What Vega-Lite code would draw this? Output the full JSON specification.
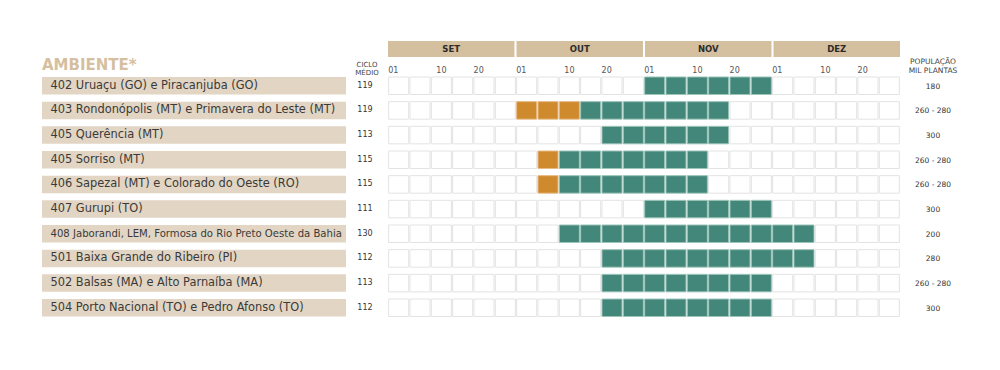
{
  "$schema": "https://vega.github.io/schema/vega-lite/v6.json",
  "padding": {"left": 42, "top": 41, "right": 10, "bottom": 10},
  "background": "white",
  "config": {
    "view": {"stroke": null},
    "font": "DejaVu Sans",
    "title": {"frame": "group", "anchor": "middle", "fontWeight": "normal", "color": "#444444"}
  },
  "datasets": {
    "amb": [
      {"k": 1, "amb": "402 Uruaçu (GO) e Piracanjuba (GO)", "ciclo": 119, "pop": "180"},
      {"k": 2, "amb": "403 Rondonópolis (MT) e Primavera do Leste (MT)", "ciclo": 119, "pop": "260 - 280"},
      {"k": 3, "amb": "405 Querência (MT)", "ciclo": 113, "pop": "300"},
      {"k": 4, "amb": "405 Sorriso (MT)", "ciclo": 115, "pop": "260 - 280"},
      {"k": 5, "amb": "406 Sapezal (MT) e Colorado do Oeste (RO)", "ciclo": 115, "pop": "260 - 280"},
      {"k": 6, "amb": "407 Gurupi (TO)", "ciclo": 111, "pop": "300"},
      {"k": 7, "amb": "408 Jaborandi, LEM, Formosa do Rio Preto Oeste da Bahia", "ciclo": 130, "pop": "200"},
      {"k": 8, "amb": "501 Baixa Grande do Ribeiro (PI)", "ciclo": 112, "pop": "280"},
      {"k": 9, "amb": "502 Balsas (MA) e Alto Parnaíba (MA)", "ciclo": 113, "pop": "260 - 280"},
      {"k": 10, "amb": "504 Porto Nacional (TO) e Pedro Afonso (TO)", "ciclo": 112, "pop": "300"}
    ],
    "meses": [{"mes": "SET"}, {"mes": "OUT"}, {"mes": "NOV"}, {"mes": "DEZ"}],
    "cells": [
      {"k":1,"c":0,"s":"n"},{"k":1,"c":1,"s":"n"},{"k":1,"c":2,"s":"n"},{"k":1,"c":3,"s":"n"},{"k":1,"c":4,"s":"n"},{"k":1,"c":5,"s":"n"},{"k":1,"c":6,"s":"n"},{"k":1,"c":7,"s":"n"},{"k":1,"c":8,"s":"n"},{"k":1,"c":9,"s":"n"},{"k":1,"c":10,"s":"n"},{"k":1,"c":11,"s":"n"},{"k":1,"c":12,"s":"g"},{"k":1,"c":13,"s":"g"},{"k":1,"c":14,"s":"g"},{"k":1,"c":15,"s":"g"},{"k":1,"c":16,"s":"g"},{"k":1,"c":17,"s":"g"},{"k":1,"c":18,"s":"n"},{"k":1,"c":19,"s":"n"},{"k":1,"c":20,"s":"n"},{"k":1,"c":21,"s":"n"},{"k":1,"c":22,"s":"n"},{"k":1,"c":23,"s":"n"},
      {"k":2,"c":0,"s":"n"},{"k":2,"c":1,"s":"n"},{"k":2,"c":2,"s":"n"},{"k":2,"c":3,"s":"n"},{"k":2,"c":4,"s":"n"},{"k":2,"c":5,"s":"n"},{"k":2,"c":6,"s":"o"},{"k":2,"c":7,"s":"o"},{"k":2,"c":8,"s":"o"},{"k":2,"c":9,"s":"g"},{"k":2,"c":10,"s":"g"},{"k":2,"c":11,"s":"g"},{"k":2,"c":12,"s":"g"},{"k":2,"c":13,"s":"g"},{"k":2,"c":14,"s":"g"},{"k":2,"c":15,"s":"g"},{"k":2,"c":16,"s":"n"},{"k":2,"c":17,"s":"n"},{"k":2,"c":18,"s":"n"},{"k":2,"c":19,"s":"n"},{"k":2,"c":20,"s":"n"},{"k":2,"c":21,"s":"n"},{"k":2,"c":22,"s":"n"},{"k":2,"c":23,"s":"n"},
      {"k":3,"c":0,"s":"n"},{"k":3,"c":1,"s":"n"},{"k":3,"c":2,"s":"n"},{"k":3,"c":3,"s":"n"},{"k":3,"c":4,"s":"n"},{"k":3,"c":5,"s":"n"},{"k":3,"c":6,"s":"n"},{"k":3,"c":7,"s":"n"},{"k":3,"c":8,"s":"n"},{"k":3,"c":9,"s":"n"},{"k":3,"c":10,"s":"g"},{"k":3,"c":11,"s":"g"},{"k":3,"c":12,"s":"g"},{"k":3,"c":13,"s":"g"},{"k":3,"c":14,"s":"g"},{"k":3,"c":15,"s":"g"},{"k":3,"c":16,"s":"n"},{"k":3,"c":17,"s":"n"},{"k":3,"c":18,"s":"n"},{"k":3,"c":19,"s":"n"},{"k":3,"c":20,"s":"n"},{"k":3,"c":21,"s":"n"},{"k":3,"c":22,"s":"n"},{"k":3,"c":23,"s":"n"},
      {"k":4,"c":0,"s":"n"},{"k":4,"c":1,"s":"n"},{"k":4,"c":2,"s":"n"},{"k":4,"c":3,"s":"n"},{"k":4,"c":4,"s":"n"},{"k":4,"c":5,"s":"n"},{"k":4,"c":6,"s":"n"},{"k":4,"c":7,"s":"o"},{"k":4,"c":8,"s":"g"},{"k":4,"c":9,"s":"g"},{"k":4,"c":10,"s":"g"},{"k":4,"c":11,"s":"g"},{"k":4,"c":12,"s":"g"},{"k":4,"c":13,"s":"g"},{"k":4,"c":14,"s":"g"},{"k":4,"c":15,"s":"n"},{"k":4,"c":16,"s":"n"},{"k":4,"c":17,"s":"n"},{"k":4,"c":18,"s":"n"},{"k":4,"c":19,"s":"n"},{"k":4,"c":20,"s":"n"},{"k":4,"c":21,"s":"n"},{"k":4,"c":22,"s":"n"},{"k":4,"c":23,"s":"n"},
      {"k":5,"c":0,"s":"n"},{"k":5,"c":1,"s":"n"},{"k":5,"c":2,"s":"n"},{"k":5,"c":3,"s":"n"},{"k":5,"c":4,"s":"n"},{"k":5,"c":5,"s":"n"},{"k":5,"c":6,"s":"n"},{"k":5,"c":7,"s":"o"},{"k":5,"c":8,"s":"g"},{"k":5,"c":9,"s":"g"},{"k":5,"c":10,"s":"g"},{"k":5,"c":11,"s":"g"},{"k":5,"c":12,"s":"g"},{"k":5,"c":13,"s":"g"},{"k":5,"c":14,"s":"g"},{"k":5,"c":15,"s":"n"},{"k":5,"c":16,"s":"n"},{"k":5,"c":17,"s":"n"},{"k":5,"c":18,"s":"n"},{"k":5,"c":19,"s":"n"},{"k":5,"c":20,"s":"n"},{"k":5,"c":21,"s":"n"},{"k":5,"c":22,"s":"n"},{"k":5,"c":23,"s":"n"},
      {"k":6,"c":0,"s":"n"},{"k":6,"c":1,"s":"n"},{"k":6,"c":2,"s":"n"},{"k":6,"c":3,"s":"n"},{"k":6,"c":4,"s":"n"},{"k":6,"c":5,"s":"n"},{"k":6,"c":6,"s":"n"},{"k":6,"c":7,"s":"n"},{"k":6,"c":8,"s":"n"},{"k":6,"c":9,"s":"n"},{"k":6,"c":10,"s":"n"},{"k":6,"c":11,"s":"n"},{"k":6,"c":12,"s":"g"},{"k":6,"c":13,"s":"g"},{"k":6,"c":14,"s":"g"},{"k":6,"c":15,"s":"g"},{"k":6,"c":16,"s":"g"},{"k":6,"c":17,"s":"g"},{"k":6,"c":18,"s":"n"},{"k":6,"c":19,"s":"n"},{"k":6,"c":20,"s":"n"},{"k":6,"c":21,"s":"n"},{"k":6,"c":22,"s":"n"},{"k":6,"c":23,"s":"n"},
      {"k":7,"c":0,"s":"n"},{"k":7,"c":1,"s":"n"},{"k":7,"c":2,"s":"n"},{"k":7,"c":3,"s":"n"},{"k":7,"c":4,"s":"n"},{"k":7,"c":5,"s":"n"},{"k":7,"c":6,"s":"n"},{"k":7,"c":7,"s":"n"},{"k":7,"c":8,"s":"g"},{"k":7,"c":9,"s":"g"},{"k":7,"c":10,"s":"g"},{"k":7,"c":11,"s":"g"},{"k":7,"c":12,"s":"g"},{"k":7,"c":13,"s":"g"},{"k":7,"c":14,"s":"g"},{"k":7,"c":15,"s":"g"},{"k":7,"c":16,"s":"g"},{"k":7,"c":17,"s":"g"},{"k":7,"c":18,"s":"g"},{"k":7,"c":19,"s":"g"},{"k":7,"c":20,"s":"n"},{"k":7,"c":21,"s":"n"},{"k":7,"c":22,"s":"n"},{"k":7,"c":23,"s":"n"},
      {"k":8,"c":0,"s":"n"},{"k":8,"c":1,"s":"n"},{"k":8,"c":2,"s":"n"},{"k":8,"c":3,"s":"n"},{"k":8,"c":4,"s":"n"},{"k":8,"c":5,"s":"n"},{"k":8,"c":6,"s":"n"},{"k":8,"c":7,"s":"n"},{"k":8,"c":8,"s":"n"},{"k":8,"c":9,"s":"n"},{"k":8,"c":10,"s":"g"},{"k":8,"c":11,"s":"g"},{"k":8,"c":12,"s":"g"},{"k":8,"c":13,"s":"g"},{"k":8,"c":14,"s":"g"},{"k":8,"c":15,"s":"g"},{"k":8,"c":16,"s":"g"},{"k":8,"c":17,"s":"g"},{"k":8,"c":18,"s":"g"},{"k":8,"c":19,"s":"g"},{"k":8,"c":20,"s":"n"},{"k":8,"c":21,"s":"n"},{"k":8,"c":22,"s":"n"},{"k":8,"c":23,"s":"n"},
      {"k":9,"c":0,"s":"n"},{"k":9,"c":1,"s":"n"},{"k":9,"c":2,"s":"n"},{"k":9,"c":3,"s":"n"},{"k":9,"c":4,"s":"n"},{"k":9,"c":5,"s":"n"},{"k":9,"c":6,"s":"n"},{"k":9,"c":7,"s":"n"},{"k":9,"c":8,"s":"n"},{"k":9,"c":9,"s":"n"},{"k":9,"c":10,"s":"g"},{"k":9,"c":11,"s":"g"},{"k":9,"c":12,"s":"g"},{"k":9,"c":13,"s":"g"},{"k":9,"c":14,"s":"g"},{"k":9,"c":15,"s":"g"},{"k":9,"c":16,"s":"g"},{"k":9,"c":17,"s":"g"},{"k":9,"c":18,"s":"n"},{"k":9,"c":19,"s":"n"},{"k":9,"c":20,"s":"n"},{"k":9,"c":21,"s":"n"},{"k":9,"c":22,"s":"n"},{"k":9,"c":23,"s":"n"},
      {"k":10,"c":0,"s":"n"},{"k":10,"c":1,"s":"n"},{"k":10,"c":2,"s":"n"},{"k":10,"c":3,"s":"n"},{"k":10,"c":4,"s":"n"},{"k":10,"c":5,"s":"n"},{"k":10,"c":6,"s":"n"},{"k":10,"c":7,"s":"n"},{"k":10,"c":8,"s":"n"},{"k":10,"c":9,"s":"n"},{"k":10,"c":10,"s":"g"},{"k":10,"c":11,"s":"g"},{"k":10,"c":12,"s":"g"},{"k":10,"c":13,"s":"g"},{"k":10,"c":14,"s":"g"},{"k":10,"c":15,"s":"g"},{"k":10,"c":16,"s":"g"},{"k":10,"c":17,"s":"g"},{"k":10,"c":18,"s":"n"},{"k":10,"c":19,"s":"n"},{"k":10,"c":20,"s":"n"},{"k":10,"c":21,"s":"n"},{"k":10,"c":22,"s":"n"},{"k":10,"c":23,"s":"n"}
    ]
  },
  "columns": 4,
  "spacing": {"row": 16.4, "column": 2},
  "bounds": "flush",
  "align": "each",
  "concat": [
    {"width": 304, "height": 16, "data": {"values": []}, "mark": {"type": "text"}, "encoding": {}},
    {"width": 38, "height": 16, "data": {"values": []}, "mark": {"type": "text"}, "encoding": {}},
    {
      "width": 512, "height": 16,
      "data": {"name": "meses"},
      "encoding": {
        "x": {"field": "mes", "type": "nominal", "sort": null, "axis": null,
              "scale": {"paddingInner": 0.016, "paddingOuter": 0}}
      },
      "layer": [
        {"mark": {"type": "rect", "color": "#d4bf9f"}},
        {"mark": {"type": "text", "fontWeight": "bold", "fontSize": 8.5, "color": "#2b2b2b"},
         "encoding": {"text": {"field": "mes"}}}
      ]
    },
    {"width": 62, "height": 16, "data": {"values": []}, "mark": {"type": "text"}, "encoding": {}},
    {
      "width": 304, "height": 246.7,
      "data": {"name": "amb"},
      "title": {"text": "AMBIENTE*", "anchor": "start", "fontSize": 15, "fontWeight": "bold", "color": "#d6bf9f", "offset": 0},
      "mark": {"type": "rect", "color": "#e2d5c3"},
      "encoding": {
        "y": {"field": "amb", "type": "nominal", "sort": null,
              "scale": {"paddingInner": 0.29, "paddingOuter": 0.145},
              "axis": {"title": null, "orient": "left", "domain": false, "ticks": false,
                       "labelAlign": "left", "labelPadding": -8, "labelLimit": 400,
                       "labelFontSize": {"condition": {"test": "length(datum.label) > 50", "value": 10.1}, "value": 11.4},
                       "labelColor": "#3a3a3a", "zindex": 1}}
      }
    },
    {
      "width": 38, "height": 246.7,
      "data": {"name": "amb"},
      "title": {"text": ["CICLO", "MÉDIO"], "fontSize": 7, "lineHeight": 8, "offset": -3},
      "mark": {"type": "text", "fontSize": 8, "color": "#333333", "dx": -2},
      "encoding": {
        "y": {"field": "k", "type": "ordinal", "scale": {"paddingInner": 0.29, "paddingOuter": 0.145}, "axis": null},
        "text": {"field": "ciclo"}
      }
    },
    {
      "width": 512, "height": 246.7,
      "data": {"name": "cells"},
      "mark": {"type": "rect", "strokeWidth": 1},
      "encoding": {
        "x": {"field": "c", "type": "ordinal",
              "scale": {"paddingInner": 0.06, "paddingOuter": 0.03},
              "axis": {"orient": "top", "title": null, "values": [0, 2, 4, 6, 8, 10, 12, 14, 16, 18, 20, 22],
                       "labelExpr": "datum.value % 6 == 0 ? '01' : (datum.value % 6 == 2 ? '10' : '20')",
                       "domain": false, "ticks": false, "labelAngle": 0,
                       "labelAlign": "left", "labelBaseline": "middle", "labelPadding": 3.4,
                       "labelOffset": {"condition": {"test": "datum.value % 6 == 2", "value": -5}, "value": -10.4},
                       "labelFontSize": 8, "labelColor": "#555555"}},
        "y": {"field": "k", "type": "ordinal", "scale": {"paddingInner": 0.29, "paddingOuter": 0.145}, "axis": null},
        "fill": {"field": "s", "type": "nominal", "legend": null,
                 "scale": {"domain": ["n", "o", "g"], "range": ["#ffffff", "#cf8a2e", "#43877a"]}},
        "stroke": {"field": "s", "type": "nominal", "legend": null,
                   "scale": {"domain": ["n", "o", "g"], "range": ["#e3e3e3", "#e6b985", "#9dc4ba"]}}
      }
    },
    {
      "width": 62, "height": 246.7,
      "data": {"name": "amb"},
      "title": {"text": ["POPULAÇÃO", "MIL PLANTAS"], "fontSize": 7.5, "lineHeight": 9, "offset": -1.5},
      "mark": {"type": "text", "fontSize": 7.5, "color": "#333333", "dy": 1},
      "encoding": {
        "y": {"field": "k", "type": "ordinal", "scale": {"paddingInner": 0.29, "paddingOuter": 0.145}, "axis": null},
        "text": {"field": "pop"}
      }
    }
  ]
}
